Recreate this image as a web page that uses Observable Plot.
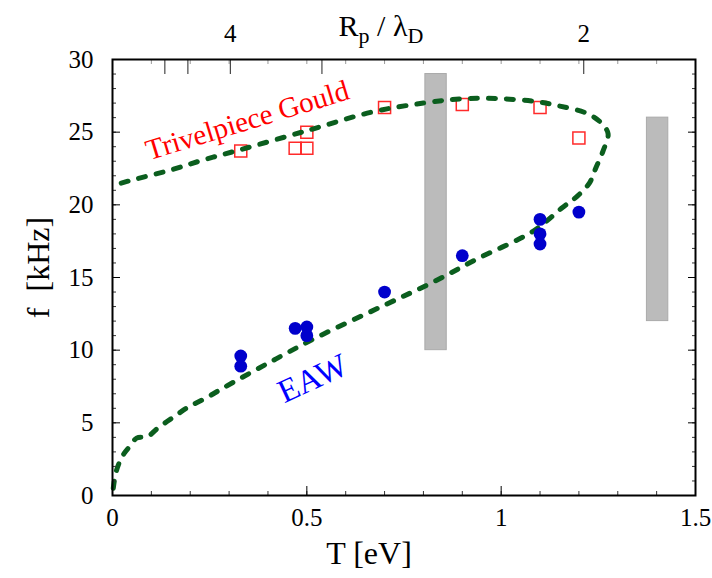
<!DOCTYPE html>
<html><head><meta charset="utf-8">
<script src="https://cdn.jsdelivr.net/npm/d3@7"></script>
<script src="https://cdn.jsdelivr.net/npm/@observablehq/plot@0.6"></script>
<style>
body{margin:0;background:#fff}
#chart svg, #chart svg text{font-family:"Liberation Serif","Times New Roman",serif !important;}
</style>
</head><body><div id="chart"></div>
<script>
// Model curve (dashed green), traced along its path
const curveT = [0.002,0.008,0.018,0.03,0.045,0.062,0.09,0.115,0.157,0.196,0.24,0.285,0.4,0.527,0.7,0.826,0.94,1.083,1.157,1.196,1.227,1.243,1.262,1.275,1.255,1.22,1.15,1.09,1.0,0.9,0.8,0.67,0.5,0.33,0.235,0.15,0.05,0.01];
const curveF = [0.5,1.5,2.3,2.9,3.4,3.95,4.05,4.6,5.4,6.1,6.7,7.4,9.1,10.9,13.1,14.7,16.3,18.2,19.8,20.6,21.5,22.5,23.7,24.9,25.7,26.3,26.8,27.1,27.3,27.3,27.0,26.4,25.1,23.8,23.1,22.4,21.7,21.4];
// EAW measurements (blue dots)
const eawT = [0.33,0.33,0.47,0.5,0.5,0.7,0.9,1.1,1.1,1.1,1.2];
const eawF = [9.6,8.9,11.5,11.6,11.0,14.0,16.5,19.0,18.0,17.3,19.5];
// Trivelpiece-Gould measurements (red squares)
const tgT = [0.33,0.47,0.5,0.5,0.7,0.9,1.1,1.2];
const tgF = [23.7,23.9,23.9,25.0,26.7,26.9,26.7,24.6];
// Gray bands
const barT1 = [0.805,1.375], barT2 = [0.86,1.43], barF1 = [10,12], barF2 = [29,26];
// Axis ticks
const xMajor = [0,0.5,1,1.5];
const xMinor = d3.range(0,15.5).map(i => i/10);
const yMajor = [0,5,10,15,20,25,30];
const yMinor = d3.range(0,31);
const rTicks = [6,5,4,3,2];
const rLabels = ["","","4","","2"];
const rConst = 4.85; // T = rConst / (Rp/λD)^2
// Annotations
const noteText = ["Trivelpiece Gould","EAW"];
const noteT = [0.347,0.515], noteF = [25.8,8.05], noteAngle = [-17,-25];
const noteColor = ["#ff0000","#0000ff"];

const curve = curveT.map((t,i) => ({t, f: curveF[i]}));
const eaw = eawT.map((t,i) => ({t, f: eawF[i]}));
const tg = tgT.map((t,i) => ({t, f: tgF[i]}));
const bars = barT1.map((t,i) => ({t1: t, t2: barT2[i], f1: barF1[i], f2: barF2[i]}));
const notes = noteText.map((s,i) => ({s, t: noteT[i], f: noteF[i], a: noteAngle[i], c: noteColor[i]}));
const rT = rTicks.map(r => rConst / (r*r));
const rMap = new Map(rT.map((t,i) => [t, rLabels[i]]));

const font = "Liberation Serif";
const chart = Plot.plot({
  width: 712, height: 578,
  marginLeft: 112, marginRight: 17, marginTop: 59, marginBottom: 83,
  x: {domain: [0,1.5]}, y: {domain: [0,30]},
  style: {fontFamily: font, background: "white", color: "black"},
  marks: [
    Plot.rect(bars, {x1: "t1", x2: "t2", y1: "f1", y2: "f2", fill: "#bbbbbb", stroke: "#aaaaaa", strokeWidth: 1}),
    Plot.dot(tg, {x: "t", y: "f", symbol: "square", r: 6.8, stroke: "#ff2a2a", strokeWidth: 1.5, fill: "none"}),
    Plot.line(curve, {x: "t", y: "f", stroke: "#0b5e1e", strokeWidth: 5, strokeDasharray: "7,11", strokeLinecap: "round", curve: "catmull-rom"}),
    Plot.dot(eaw, {x: "t", y: "f", r: 6.4, fill: "#0000cc"}),
    Plot.text(notes.slice(0,1), {x: "t", y: "f", text: "s", rotate: "a", fill: "c", fontSize: 29, fontFamily: font}),
    Plot.text(notes.slice(1), {x: "t", y: "f", text: "s", rotate: "a", fill: "c", fontSize: 33, fontFamily: font}),
    // inward ticks
    Plot.axisX({anchor: "bottom", ticks: xMinor, tickSize: -4, tickFormat: () => "", label: null, stroke: "#333"}),
    Plot.axisX({anchor: "bottom", ticks: xMajor, tickSize: -9, tickFormat: () => "", label: null}),
    Plot.axisX({anchor: "bottom", ticks: xMajor, tickSize: 0, tickPadding: 13, fontSize: 25, fontFamily: font, label: null, tickFormat: d => String(d)}),
    Plot.axisX({anchor: "top", ticks: xMinor, tickSize: -4, tickFormat: () => "", label: null, stroke: "#999"}),
    Plot.axisX({anchor: "top", ticks: rT, tickSize: -14, tickFormat: () => "", label: null, stroke: "#222"}),
    Plot.axisX({anchor: "top", ticks: rT, tickSize: 0, tickPadding: 18, fontSize: 25, fontFamily: font, label: null, tickFormat: t => rMap.get(t)}),
    Plot.axisY({anchor: "left", ticks: yMinor, tickSize: -4, tickFormat: () => "", label: null, stroke: "#333"}),
    Plot.axisY({anchor: "left", ticks: yMajor, tickSize: -8, tickFormat: () => "", label: null}),
    Plot.axisY({anchor: "left", ticks: yMajor, tickSize: 0, tickPadding: 19, fontSize: 25, fontFamily: font, label: null}),
    Plot.axisY({anchor: "right", ticks: yMinor, tickSize: -4, tickFormat: () => "", label: null, stroke: "#333"}),
    Plot.axisY({anchor: "right", ticks: yMajor, tickSize: -8, tickFormat: () => "", label: null}),
    Plot.frame({stroke: "black", strokeWidth: 2}),
    Plot.text(["T [eV]"], {frameAnchor: "bottom", lineAnchor: "middle", dx: -35, dy: 58, fontSize: 32, fontFamily: font}),
    Plot.text(["f\u00a0 [kHz]"], {frameAnchor: "left", textAnchor: "middle", lineAnchor: "middle", dx: -74, dy: -10, rotate: -90, fontSize: 32, fontFamily: font})
  ]
});
document.getElementById("chart").append(chart);

// Top axis title with subscripts: Rp / λD
const title = d3.select(chart).append("text")
  .attr("x", 381).attr("y", 36).attr("text-anchor", "middle")
  .style("font-size", "30px").attr("fill", "black");
title.append("tspan").text("R");
title.append("tspan").attr("dy", 7).style("font-size", "22px").text("p");
title.append("tspan").attr("dy", -7).text(" / λ");
title.append("tspan").attr("dy", 7).style("font-size", "22px").text("D");

// make sure every label uses the serif face
d3.select(chart).selectAll("text").attr("font-family", font).style("font-family", "'Liberation Serif', serif");
</script>
</body></html>
